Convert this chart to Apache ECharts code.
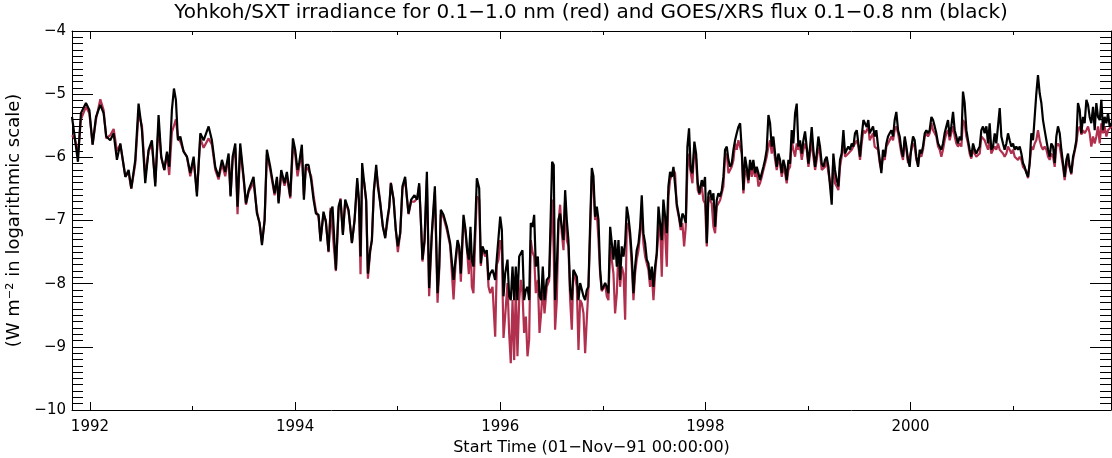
<!DOCTYPE html>
<html><head><meta charset="utf-8">
<script src="https://cdn.jsdelivr.net/npm/echarts@6/dist/echarts.min.js"></script>
<style>html,body{margin:0;padding:0;background:#fff}#c{width:1112px;height:458px}</style>
</head><body><div id="c"></div>
<script>
// Decimal years of the traced vertices
const years = [
1991.825,1991.851,1991.883,1991.912,1991.961,1991.994,1992.026,1992.059,1992.101,1992.133,1992.159,1992.198,1992.231,1992.263,1992.296,1992.345,1992.377,1992.403,1992.442,1992.474,1992.507,1992.539,1992.572,1992.604,1992.637,1992.669,1992.695,1992.725,1992.751,1992.773,1992.799,1992.819,1992.838,1992.858,1992.881,1992.913,1992.946,1992.978,1993.011,1993.043,1993.076,1993.108,1993.157,1993.189,1993.222,1993.254,1993.287,1993.319,1993.352,1993.371,1993.391,1993.417,1993.439,1993.465,1993.498,1993.521,1993.547,1993.595,1993.628,1993.654,1993.677,1993.703,1993.725,1993.758,
1993.800,1993.823,1993.839,1993.865,1993.897,1993.920,1993.953,1993.979,1994.001,1994.024,1994.040,1994.066,1994.086,1994.105,1994.131,1994.157,1994.180,1994.203,1994.229,1994.248,1994.277,1994.300,1994.326,1994.346,1994.365,1994.398,1994.424,1994.443,1994.466,1994.489,1994.521,1994.554,1994.580,1994.606,1994.622,1994.638,1994.654,1994.674,1994.693,1994.710,1994.732,1994.749,1994.768,1994.791,1994.807,1994.830,1994.856,1994.879,1994.898,1994.918,1994.934,1994.960,1994.982,1995.002,1995.025,1995.047,1995.073,1995.090,1995.106,1995.132,1995.164,1995.190,1995.210,1995.226,1995.242,1995.262,1995.285,1995.307,1995.333,1995.363,1995.389,1995.405,1995.421,1995.447,1995.480,1995.512,1995.545,1995.564,1995.584,1995.600,1995.616,1995.642,1995.662,1995.678,1995.694,1995.710,
1995.723,1995.739,1995.756,1995.772,1995.795,1995.811,1995.827,1995.853,1995.869,1995.886,1995.902,1995.925,1995.951,1995.967,1995.983,1996.000,1996.016,1996.032,1996.048,1996.071,1996.087,1996.103,1996.120,1996.136,1996.152,1996.168,1996.185,1996.201,1996.217,1996.233,1996.250,1996.266,1996.282,1996.298,1996.315,1996.331,1996.347,1996.367,1996.383,1996.399,1996.415,1996.432,1996.454,1996.477,1996.493,1996.506,1996.522,1996.535,1996.552,1996.568,1996.584,1996.600,1996.617,1996.633,1996.649,1996.665,1996.682,1996.698,1996.714,1996.730,1996.747,1996.763,1996.779,1996.795,1996.812,1996.828,1996.844,1996.860,1996.877,1996.893,1996.909,1996.925,1996.942,1996.958,1996.974,1996.990,1997.007,1997.023,1997.039,1997.055,1997.072,1997.088,1997.104,1997.120,1997.137,1997.153,1997.169,1997.185,1997.202,1997.218,1997.234,1997.250,1997.267,1997.283,1997.299,1997.315,1997.331,1997.348,1997.364,1997.380,1997.396,1997.413,1997.429,1997.445,1997.461,1997.478,1997.494,1997.510,1997.526,1997.543,1997.559,1997.575,1997.591,1997.608,1997.624,1997.640,1997.656,
1997.673,1997.689,1997.705,1997.721,1997.744,1997.760,1997.776,1997.793,1997.809,1997.825,1997.841,1997.858,1997.874,1997.893,1997.910,1997.926,1997.942,1997.965,1997.981,1997.997,1998.014,1998.030,1998.046,1998.062,1998.079,1998.095,1998.111,1998.127,1998.144,1998.160,1998.176,1998.192,1998.209,1998.225,1998.241,1998.257,1998.274,1998.290,1998.306,1998.322,1998.339,1998.355,1998.371,1998.387,1998.403,1998.420,1998.436,1998.452,1998.468,1998.485,1998.501,1998.517,1998.533,1998.550,1998.566,1998.582,1998.598,1998.615,1998.631,1998.647,1998.663,1998.680,1998.696,1998.712,1998.728,1998.745,1998.761,1998.777,1998.793,1998.810,1998.826,1998.842,1998.858,1998.875,1998.891,1998.907,1998.923,1998.940,1998.956,1998.972,1998.988,1999.005,1999.021,1999.037,1999.053,1999.070,1999.086,1999.102,1999.118,1999.135,1999.151,1999.167,1999.183,1999.200,1999.216,1999.232,1999.248,1999.264,1999.281,1999.297,1999.313,1999.329,1999.346,1999.362,1999.378,1999.394,1999.411,1999.427,1999.443,1999.459,1999.476,1999.492,1999.508,1999.524,1999.541,1999.557,1999.573,1999.589,
1999.602,1999.635,1999.651,1999.667,1999.684,1999.700,1999.716,1999.732,1999.749,1999.765,1999.781,1999.797,1999.814,1999.830,1999.846,1999.862,1999.879,1999.895,1999.911,1999.927,1999.944,1999.960,1999.976,1999.992,2000.009,2000.025,2000.041,2000.057,2000.074,2000.090,2000.106,2000.122,2000.139,2000.155,2000.171,2000.187,2000.204,2000.220,2000.236,2000.252,2000.269,2000.285,2000.301,2000.317,2000.333,2000.350,2000.366,2000.382,2000.398,2000.415,2000.431,2000.447,2000.463,2000.480,2000.496,2000.512,2000.528,2000.545,2000.561,2000.577,2000.593,2000.610,2000.626,2000.642,2000.658,2000.675,2000.691,2000.707,2000.723,2000.740,2000.756,2000.772,2000.788,2000.805,2000.821,2000.837,2000.853,2000.870,2000.886,2000.902,2000.918,2000.935,2000.951,2000.967,2000.983,2001.000,2001.016,2001.032,2001.048,2001.065,2001.081,2001.097,2001.113,2001.130,2001.146,2001.162,2001.178,2001.195,2001.211,2001.227,2001.243,2001.260,2001.276,2001.292,2001.308,2001.325,2001.341,2001.357,2001.373,2001.390,2001.406,2001.422,2001.438,2001.455,2001.471,2001.487,2001.503,2001.520,2001.536,2001.552,2001.568,2001.585,2001.601,2001.617,2001.633,2001.650,2001.666,2001.682,2001.698,2001.715,2001.731,2001.747,2001.763,2001.780,2001.796,2001.812,2001.828,2001.845,2001.861,2001.877,2001.893,2001.910,2001.926,2001.942,2001.958
];
// GOES/XRS 0.1-0.8 nm flux, log10(W m^-2) (black)
const goesFlux = [
-5.36,-5.67,-6.07,-5.30,-5.14,-5.25,-5.80,-5.36,-5.17,-5.30,-5.67,-5.73,-5.62,-6.04,-5.78,-6.31,-6.20,-6.49,-6.04,-5.15,-5.57,-6.41,-5.88,-5.73,-6.46,-5.33,-5.99,-6.20,-5.91,-6.15,-5.25,-4.91,-5.09,-5.73,-5.67,-5.91,-5.99,-6.25,-5.99,-6.62,-5.62,-5.73,-5.51,-5.73,-6.15,-6.31,-6.04,-6.23,-5.94,-6.62,-5.99,-5.78,-6.78,-5.78,-6.31,-6.73,-6.52,-6.31,-6.89,-7.04,-7.39,-6.99,-5.88,-6.15,
-6.57,-6.31,-6.73,-6.20,-6.41,-6.23,-6.62,-5.70,-5.88,-6.20,-6.09,-5.80,-6.67,-6.12,-6.12,-6.36,-6.67,-6.89,-6.91,-7.33,-6.86,-7.02,-7.49,-6.86,-6.78,-7.78,-6.78,-6.67,-7.23,-6.67,-6.83,-7.36,-6.99,-6.33,-6.67,-7.57,-6.09,-6.41,-6.67,-7.84,-7.47,-7.31,-6.52,-6.12,-6.46,-6.73,-7.10,-7.28,-6.99,-6.78,-6.41,-6.67,-7.15,-7.41,-7.20,-6.46,-6.31,-6.62,-6.89,-6.67,-6.60,-6.67,-6.41,-6.99,-7.62,-7.31,-6.23,-8.07,-7.20,-6.46,-8.15,-7.73,-6.83,-6.91,-7.10,-7.36,-7.94,-7.62,-7.31,-7.41,-7.84,-6.91,-7.15,-7.47,-7.62,-7.10,
-7.62,-7.73,-7.10,-6.33,-6.49,-7.68,-7.41,-7.52,-7.47,-7.94,-7.84,-7.78,-7.94,-7.60,-7.57,-6.94,-7.15,-8.20,-7.84,-7.62,-8.20,-8.26,-7.73,-8.26,-7.73,-8.26,-7.57,-7.52,-7.47,-8.26,-8.10,-8.05,-8.26,-7.04,-7.10,-6.91,-7.73,-7.57,-8.20,-8.26,-7.73,-8.26,-7.94,-7.89,-7.89,-6.07,-6.12,-8.26,-7.73,-6.99,-6.89,-7.10,-7.31,-6.52,-6.99,-7.31,-8.10,-8.26,-7.78,-7.78,-7.89,-8.26,-7.99,-7.97,-8.20,-8.26,-8.10,-8.05,-7.04,-6.17,-6.30,-6.94,-6.78,-6.99,-7.78,-8.10,-8.05,-7.99,-8.05,-8.15,-7.10,-7.36,-7.62,-7.31,-7.73,-7.31,-7.94,-7.41,-7.57,-7.36,-6.78,-6.94,-7.20,-7.57,-8.15,-7.73,-7.47,-7.36,-7.10,-6.60,-7.20,-7.36,-7.62,-7.68,-7.94,-7.73,-8.05,-7.73,-7.52,-6.78,-6.78,-7.31,-6.67,-6.65,-7.20,-6.46,-6.23,
-6.31,-6.15,-6.12,-6.73,-6.94,-7.10,-6.89,-6.94,-7.04,-5.83,-5.54,-6.20,-6.25,-5.75,-5.94,-6.41,-6.57,-6.36,-6.46,-6.31,-7.36,-6.57,-6.52,-6.68,-6.57,-7.10,-6.68,-6.57,-6.62,-6.52,-6.31,-5.88,-5.83,-6.04,-6.15,-6.10,-5.88,-5.73,-5.62,-5.52,-5.46,-5.88,-6.52,-5.99,-6.15,-6.36,-6.04,-6.20,-6.04,-6.25,-6.15,-6.25,-6.36,-6.25,-6.15,-6.04,-5.88,-5.33,-5.46,-5.83,-5.67,-5.94,-6.15,-5.94,-6.04,-6.25,-6.04,-6.15,-6.36,-6.04,-6.10,-5.57,-5.78,-5.30,-5.15,-5.83,-5.73,-5.94,-5.73,-5.59,-5.83,-6.10,-5.83,-5.52,-5.88,-6.15,-5.94,-5.67,-5.83,-6.10,-6.15,-6.04,-5.99,-6.15,-6.46,-6.75,-5.94,-6.20,-6.36,-6.46,-6.04,-5.94,-5.57,-5.94,-5.88,-5.83,-5.88,-5.78,-5.83,-5.62,-5.57,-5.78,-5.99,-5.67,-5.41,-5.38,-5.52,-5.41,
-5.62,-5.51,-5.67,-5.57,-5.83,-6.04,-6.25,-5.88,-5.99,-5.78,-5.67,-5.62,-5.57,-5.67,-5.41,-5.28,-5.57,-5.67,-5.88,-5.99,-5.67,-5.83,-6.04,-6.15,-5.83,-5.67,-5.73,-5.99,-6.15,-5.88,-5.94,-5.83,-5.62,-5.57,-5.62,-5.57,-5.36,-5.41,-5.51,-5.62,-5.78,-5.83,-5.88,-5.78,-5.62,-5.51,-5.41,-5.67,-5.51,-5.28,-5.57,-5.67,-5.78,-5.67,-5.73,-4.96,-5.14,-5.57,-5.73,-5.88,-5.99,-5.78,-5.88,-5.94,-5.88,-5.83,-5.57,-5.51,-5.62,-5.51,-5.78,-5.46,-5.88,-5.83,-5.62,-5.78,-5.51,-5.22,-5.67,-5.78,-5.88,-5.78,-5.62,-5.73,-5.83,-5.78,-5.88,-5.83,-5.88,-5.83,-5.94,-6.09,-6.15,-6.25,-6.31,-6.09,-5.62,-5.73,-5.36,-4.99,-4.70,-4.99,-5.14,-5.41,-5.57,-5.73,-5.88,-5.99,-5.78,-5.83,-6.09,-5.67,-5.51,-5.62,-5.88,-6.09,-6.31,-6.04,-5.94,-6.15,-6.25,-5.99,-5.88,-5.73,-5.14,-5.25,-5.62,-5.36,-5.46,-5.09,-5.17,-5.36,-5.46,-5.20,-5.57,-5.14,-5.36,-5.41,-5.09,-5.57,-5.36,-5.46,-5.30,-5.51,-5.46
];
// Yohkoh/SXT 0.1-1.0 nm irradiance, log10(W m^-2) (red)
const sxtIrradiance = [
-5.65,-5.70,-5.95,-5.40,-5.20,-5.30,-5.80,-5.40,-5.08,-5.25,-5.70,-5.65,-5.55,-5.90,-5.80,-6.30,-6.25,-6.50,-6.10,-5.30,-5.50,-6.30,-5.90,-5.80,-6.40,-5.50,-6.00,-6.20,-5.95,-6.28,-5.60,-5.50,-5.40,-5.70,-5.75,-5.90,-6.00,-6.30,-6.05,-6.55,-5.70,-5.85,-5.70,-5.80,-6.20,-6.35,-6.10,-6.30,-6.00,-6.60,-6.05,-5.85,-6.90,-5.85,-6.35,-6.75,-6.55,-6.40,-6.85,-7.05,-7.35,-7.00,-5.95,-6.20,
-6.60,-6.35,-6.70,-6.25,-6.45,-6.30,-6.65,-5.85,-5.95,-6.30,-6.15,-5.90,-6.60,-6.15,-6.20,-6.30,-6.60,-6.85,-6.95,-7.30,-6.90,-7.00,-7.50,-6.80,-6.80,-7.80,-6.85,-6.65,-7.20,-6.70,-6.85,-7.35,-7.00,-6.40,-6.70,-7.85,-6.30,-6.40,-6.70,-7.92,-7.50,-7.30,-6.55,-6.20,-6.40,-6.70,-7.10,-7.25,-7.05,-6.80,-6.40,-6.65,-7.15,-7.50,-7.20,-6.50,-6.35,-6.65,-6.90,-6.70,-6.70,-6.65,-6.45,-7.00,-7.65,-7.35,-6.35,-8.20,-7.25,-6.55,-8.30,-7.80,-6.90,-6.95,-7.15,-7.40,-8.25,-7.70,-7.35,-7.45,-7.97,-7.00,-7.20,-7.50,-7.85,-7.20,
-8.05,-8.15,-7.31,-6.62,-6.67,-7.72,-7.45,-7.57,-7.52,-8.05,-8.15,-8.05,-8.84,-7.70,-7.62,-7.31,-7.47,-8.86,-8.52,-7.99,-8.78,-9.26,-8.26,-9.21,-8.05,-9.15,-8.26,-7.94,-8.15,-8.78,-8.52,-9.15,-8.89,-7.31,-7.50,-7.57,-8.15,-7.94,-8.78,-8.47,-8.05,-8.47,-8.05,-7.95,-7.95,-6.67,-7.52,-8.73,-8.26,-7.04,-6.75,-7.20,-7.47,-6.67,-7.31,-7.41,-8.26,-8.73,-7.80,-7.89,-8.05,-9.05,-8.26,-8.31,-8.47,-9.10,-8.57,-8.08,-7.20,-6.30,-6.46,-6.99,-6.89,-7.31,-7.84,-8.12,-8.07,-8.01,-8.20,-8.26,-7.41,-7.38,-7.84,-8.47,-8.15,-7.41,-8.05,-7.73,-7.84,-8.57,-7.10,-7.04,-7.31,-7.73,-8.26,-7.84,-7.62,-7.47,-7.20,-6.89,-7.36,-7.57,-7.68,-7.78,-8.05,-7.84,-8.26,-7.84,-7.55,-7.20,-7.04,-7.89,-6.89,-7.20,-7.73,-6.62,-6.36,
-6.36,-6.20,-6.25,-6.78,-6.97,-7.15,-7.04,-7.41,-7.10,-6.20,-5.94,-6.25,-6.41,-5.83,-6.04,-6.52,-6.59,-6.46,-6.68,-6.73,-7.41,-6.62,-6.68,-6.73,-7.10,-7.20,-6.78,-6.73,-6.68,-6.57,-6.46,-5.99,-5.94,-6.25,-6.20,-6.15,-6.04,-5.78,-5.88,-5.73,-5.73,-5.94,-6.57,-6.20,-6.25,-6.41,-6.10,-6.31,-6.15,-6.31,-6.20,-6.46,-6.41,-6.31,-6.20,-6.10,-5.99,-5.83,-5.73,-5.94,-5.78,-6.04,-6.20,-6.04,-6.10,-6.31,-6.15,-6.25,-6.41,-6.20,-6.15,-5.73,-5.88,-5.99,-5.78,-5.88,-5.83,-6.04,-5.88,-5.78,-5.88,-6.15,-5.94,-5.73,-5.99,-6.20,-6.04,-5.83,-5.94,-6.20,-6.20,-6.15,-6.04,-6.25,-6.40,-6.50,-6.04,-6.41,-6.46,-6.52,-6.15,-5.99,-5.73,-5.99,-5.99,-5.94,-5.96,-5.88,-5.91,-5.78,-5.73,-5.83,-6.04,-5.78,-5.57,-5.62,-5.57,-5.52,
-5.73,-5.62,-5.83,-5.83,-5.88,-6.09,-6.20,-5.99,-6.04,-5.83,-5.78,-5.73,-5.67,-5.73,-5.57,-5.51,-5.62,-5.78,-5.94,-6.04,-5.73,-5.88,-6.09,-6.12,-5.88,-5.78,-5.83,-6.04,-6.12,-5.94,-5.99,-5.88,-5.67,-5.62,-5.67,-5.62,-5.46,-5.57,-5.62,-5.67,-5.83,-5.88,-5.99,-5.88,-5.73,-5.62,-5.57,-5.73,-5.62,-5.51,-5.67,-5.78,-5.83,-5.78,-5.83,-5.41,-5.46,-5.67,-5.78,-5.94,-6.02,-5.88,-5.94,-5.99,-5.99,-5.94,-5.67,-5.67,-5.73,-5.73,-5.88,-5.73,-5.94,-5.88,-5.83,-5.88,-5.78,-5.88,-5.88,-5.94,-5.99,-5.94,-5.83,-5.88,-5.94,-5.88,-5.99,-5.99,-6.04,-5.99,-6.04,-6.15,-6.13,-6.22,-6.33,-6.10,-5.83,-5.88,-5.78,-5.73,-5.57,-5.73,-5.83,-5.88,-5.83,-5.88,-5.99,-6.04,-5.94,-5.99,-6.15,-5.83,-5.78,-5.83,-5.99,-6.15,-6.36,-6.15,-6.04,-6.16,-6.27,-6.04,-5.90,-5.78,-5.57,-5.51,-5.64,-5.57,-5.62,-5.57,-5.51,-5.62,-5.83,-5.67,-5.78,-5.67,-5.51,-5.78,-5.46,-5.62,-5.51,-5.67,-5.57,-5.57,-5.51
];
const labelYears = [1992, 1994, 1996, 1998, 2000];
const minorYears = [1993, 1995, 1997, 1999, 2001];
const xRange = [1991.825, 2001.955];
const yRange = [-10, -4];
const titleText = 'Yohkoh/SXT irradiance for 0.1\u22121.0 nm (red) and GOES/XRS flux 0.1\u22120.8 nm (black)';
const xName = 'Start Time (01\u2212Nov\u221291 00:00:00)';
const yName = '(W m\u207B\u00B2 in logarithmic scale)';

const n = Math.min(years.length, goesFlux.length, sxtIrradiance.length);
const goesData = [], sxtData = [];
for (let i = 0; i < n; i++) {
  goesData.push([years[i], goesFlux[i]]);
  sxtData.push([years[i], sxtIrradiance[i]]);
}

const FONT = 'DejaVu Sans';
const BLACK = '#000';
const lineSt = { color: BLACK, width: 1 };

function xAxisDef(position, ticks, len, opts) {
  return Object.assign({
    type: 'value', position: position, min: xRange[0], max: xRange[1],
    axisLine: { show: true, onZero: false, lineStyle: lineSt },
    axisTick: { show: true, inside: true, length: len, customValues: ticks, lineStyle: lineSt },
    axisLabel: { show: false },
    splitLine: { show: false }
  }, opts || {});
}
function yAxisDef(position, showLabel, opts) {
  return Object.assign({
    type: 'value', position: position, min: yRange[0], max: yRange[1], interval: 1,
    axisLine: { show: true, onZero: false, lineStyle: lineSt },
    axisTick: { show: true, inside: true, length: 21, lineStyle: lineSt },
    minorTick: { show: true, splitNumber: 10, length: 11, lineStyle: lineSt },
    axisLabel: {
      show: showLabel, margin: 6, color: BLACK, fontFamily: FONT, fontSize: 15,
      formatter: function (v) { return String(v).replace('-', '\u2212'); }
    },
    splitLine: { show: false }, minorSplitLine: { show: false }
  }, opts || {});
}

const chart = echarts.init(document.getElementById('c'), null, { renderer: 'canvas' });
chart.setOption({
  animation: false,
  backgroundColor: '#fff',
  title: {
    text: titleText, left: 591, top: 3, textAlign: 'center', padding: 0,
    textStyle: { fontFamily: FONT, fontSize: 20, fontWeight: 'normal', color: BLACK }
  },
  grid: { left: 72, right: 1, top: 31, bottom: 48, containLabel: false, outerBoundsMode: 'none' },
  xAxis: [
    xAxisDef('bottom', labelYears, 8, {
      axisLabel: { show: true, customValues: labelYears, margin: 10, color: BLACK, fontFamily: FONT, fontSize: 15,
        formatter: function (v) { return String(Math.round(v)); } },
      name: xName, nameLocation: 'middle', nameGap: 27,
      nameTextStyle: { fontFamily: FONT, fontSize: 16, color: BLACK }
    }),
    xAxisDef('bottom', minorYears, 4, { axisLine: { show: false } }),
    xAxisDef('top', labelYears, 8),
    xAxisDef('top', minorYears, 4, { axisLine: { show: false } })
  ],
  yAxis: [
    yAxisDef('left', true, {
      name: yName, nameLocation: 'middle', nameGap: 44,
      nameTextStyle: { fontFamily: FONT, fontSize: 18, color: BLACK }
    }),
    yAxisDef('right', false)
  ],
  series: [
    { name: 'Yohkoh/SXT', type: 'line', data: sxtData, xAxisIndex: 0, yAxisIndex: 0,
      showSymbol: false, symbol: 'none', lineStyle: { color: '#b0304e', width: 2.2 }, z: 2 },
    { name: 'GOES/XRS', type: 'line', data: goesData, xAxisIndex: 0, yAxisIndex: 0,
      showSymbol: false, symbol: 'none', lineStyle: { color: BLACK, width: 2.2 }, z: 3 }
  ]
});
</script>
</body></html>
